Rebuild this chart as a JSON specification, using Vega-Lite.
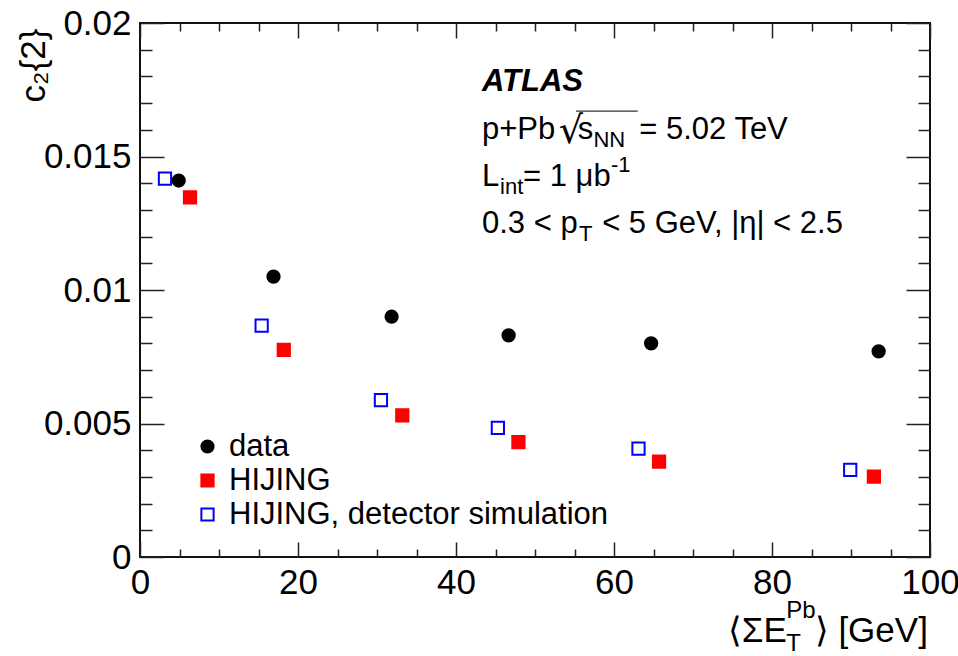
{
  "$schema": "https://vega.github.io/schema/vega-lite/v6.json",
  "width": 790,
  "height": 534,
  "autosize": {"type": "none"},
  "padding": {"left": 140, "top": 23, "right": 28, "bottom": 99},
  "background": "white",
  "config": {
    "view": {"stroke": "#111111", "strokeWidth": 2},
    "font": "Liberation Sans",
    "axis": {
      "grid": false,
      "domain": false,
      "tickColor": "#222222",
      "tickWidth": 1.5,
      "labelColor": "black",
      "labelFont": "Liberation Sans",
      "labelFontSize": 35,
      "labelFlush": false,
      "labelOverlap": false,
      "titleFont": "Liberation Sans",
      "titleColor": "black",
      "titleFontWeight": "normal",
      "zindex": 1
    },
    "legend": {
      "orient": "none",
      "legendX": 52,
      "legendY": 408,
      "padding": 0,
      "labelFont": "Liberation Sans",
      "labelFontSize": 31,
      "labelColor": "black",
      "labelOffset": 6,
      "rowPadding": 2,
      "symbolSize": 150,
      "symbolStrokeWidth": 2,
      "labelLimit": 600
    }
  },
  "datasets": {
    "points": [
      {"series": "data", "x": 4.9, "y": 0.0141},
      {"series": "data", "x": 16.9, "y": 0.0105},
      {"series": "data", "x": 31.85, "y": 0.0090},
      {"series": "data", "x": 46.66, "y": 0.0083},
      {"series": "data", "x": 64.7, "y": 0.0080},
      {"series": "data", "x": 93.5, "y": 0.0077},
      {"series": "HIJING", "x": 6.33, "y": 0.01347},
      {"series": "HIJING", "x": 18.2, "y": 0.00776},
      {"series": "HIJING", "x": 33.2, "y": 0.0053},
      {"series": "HIJING", "x": 47.9, "y": 0.0043},
      {"series": "HIJING", "x": 65.7, "y": 0.00357},
      {"series": "HIJING", "x": 92.9, "y": 0.00301},
      {"series": "HIJING, detector simulation", "x": 3.16, "y": 0.01417},
      {"series": "HIJING, detector simulation", "x": 15.4, "y": 0.00867},
      {"series": "HIJING, detector simulation", "x": 30.5, "y": 0.00588},
      {"series": "HIJING, detector simulation", "x": 45.3, "y": 0.00484},
      {"series": "HIJING, detector simulation", "x": 63.1, "y": 0.00406},
      {"series": "HIJING, detector simulation", "x": 89.9, "y": 0.00326}
    ],
    "anno": [
      {"x": 43.29, "y": 0.015655, "text": "p+Pb"},
      {"x": 55.4, "y": 0.015655, "text": "s"},
      {"x": 63.2, "y": 0.015655, "text": "= 5.02 TeV"},
      {"x": 43.29, "y": 0.013895, "text": "L"},
      {"x": 48.48, "y": 0.013895, "text": "= 1 μb"},
      {"x": 43.29, "y": 0.012135, "text": "0.3 < p"},
      {"x": 58.5, "y": 0.012135, "text": "< 5 GeV, |η| < 2.5"}
    ],
    "radical": [
      {"x": 53.0, "y": 0.0155, "text": "√"}
    ],
    "annosub": [
      {"x": 45.57, "y": 0.013596, "text": "int"},
      {"x": 57.4, "y": 0.015356, "text": "NN"},
      {"x": 55.57, "y": 0.011835, "text": "T"}
    ],
    "annosup": [
      {"x": 59.62, "y": 0.01442, "text": "-1"}
    ],
    "atlas": [
      {"x": 43.29, "y": 0.017453, "text": "ATLAS"}
    ],
    "bar": [
      {"x": 55.2, "x2": 63.0, "y": 0.0167}
    ],
    "xt": [
      {"x": 74.4, "y": -0.003184, "text": "⟨ΣE"},
      {"x": 85.4, "y": -0.003184, "text": "⟩ [GeV]"}
    ],
    "xts": [
      {"x": 81.8, "y": -0.00352, "text": "T"},
      {"x": 81.8, "y": -0.002285, "text": "Pb"}
    ]
  },
  "layer": [
    {
      "data": {"name": "points"},
      "mark": {"type": "point", "size": 150, "strokeWidth": 2, "opacity": 1},
      "encoding": {
        "x": {
          "field": "x", "type": "quantitative",
          "scale": {"domain": [0, 100], "nice": false},
          "axis": {"orient": "bottom", "values": [0, 20, 40, 60, 80, 100], "format": "d", "tickSize": -15, "labelPadding": 23, "title": null}
        },
        "y": {
          "field": "y", "type": "quantitative",
          "scale": {"domain": [0, 0.02], "nice": false, "zero": false},
          "axis": {
            "orient": "left", "values": [0, 0.005, 0.01, 0.015, 0.02], "format": "~g", "tickSize": -24, "labelPadding": 33,
            "title": "c₂{2}", "titleFontSize": 35, "titleAngle": 270, "titleAnchor": "end", "titleAlign": "right", "titleBaseline": "alphabetic", "titleX": -96, "titleY": 5
          }
        },
        "shape": {
          "field": "series", "type": "nominal",
          "scale": {"domain": ["data", "HIJING", "HIJING, detector simulation"], "range": ["circle", "square", "square"]},
          "legend": {"title": null}
        },
        "fill": {
          "field": "series", "type": "nominal",
          "scale": {"domain": ["data", "HIJING", "HIJING, detector simulation"], "range": ["black", "#ff0000", "transparent"]},
          "legend": {"title": null}
        },
        "stroke": {
          "field": "series", "type": "nominal",
          "scale": {"domain": ["data", "HIJING", "HIJING, detector simulation"], "range": ["black", "#ff0000", "#0000ff"]},
          "legend": {"title": null}
        }
      }
    },
    {
      "data": {"name": "anno"},
      "mark": {"type": "text", "align": "left", "baseline": "alphabetic", "fontSize": 31, "font": "Liberation Sans", "color": "black"},
      "encoding": {
        "x": {
          "field": "x", "type": "quantitative", "scale": {"domain": [0, 100], "nice": false},
          "axis": {"orient": "bottom", "values": [5, 10, 15, 25, 30, 35, 45, 50, 55, 65, 70, 75, 85, 90, 95], "tickSize": -8, "labels": false, "title": null}
        },
        "y": {
          "field": "y", "type": "quantitative", "scale": {"domain": [0, 0.02], "nice": false, "zero": false},
          "axis": {"orient": "left", "values": [0.001, 0.002, 0.003, 0.004, 0.006, 0.007, 0.008, 0.009, 0.011, 0.012, 0.013, 0.014, 0.016, 0.017, 0.018, 0.019], "tickSize": -12, "labels": false, "title": null}
        },
        "text": {"field": "text"}
      }
    },
    {
      "data": {"name": "annosub"},
      "mark": {"type": "text", "align": "left", "baseline": "alphabetic", "fontSize": 22, "font": "Liberation Sans", "color": "black"},
      "encoding": {
        "x": {
          "field": "x", "type": "quantitative", "scale": {"domain": [0, 100], "nice": false},
          "axis": {"orient": "top", "values": [0, 20, 40, 60, 80, 100], "tickSize": -15, "labels": false, "title": null}
        },
        "y": {
          "field": "y", "type": "quantitative", "scale": {"domain": [0, 0.02], "nice": false, "zero": false},
          "axis": {"orient": "right", "values": [0, 0.005, 0.01, 0.015, 0.02], "tickSize": -24, "labels": false, "title": null}
        },
        "text": {"field": "text"}
      }
    },
    {
      "data": {"name": "atlas"},
      "mark": {"type": "text", "align": "left", "baseline": "alphabetic", "fontSize": 31, "font": "Liberation Sans", "fontWeight": "bold", "fontStyle": "italic", "color": "black"},
      "encoding": {
        "x": {
          "field": "x", "type": "quantitative", "scale": {"domain": [0, 100], "nice": false},
          "axis": {"orient": "top", "values": [5, 10, 15, 25, 30, 35, 45, 50, 55, 65, 70, 75, 85, 90, 95], "tickSize": -8, "labels": false, "title": null}
        },
        "y": {
          "field": "y", "type": "quantitative", "scale": {"domain": [0, 0.02], "nice": false, "zero": false},
          "axis": {"orient": "right", "values": [0.001, 0.002, 0.003, 0.004, 0.006, 0.007, 0.008, 0.009, 0.011, 0.012, 0.013, 0.014, 0.016, 0.017, 0.018, 0.019], "tickSize": -12, "labels": false, "title": null}
        },
        "text": {"field": "text"}
      }
    },
    {
      "data": {"name": "annosup"},
      "mark": {"type": "text", "align": "left", "baseline": "alphabetic", "fontSize": 22, "font": "Liberation Sans", "color": "black"},
      "encoding": {
        "x": {"field": "x", "type": "quantitative", "scale": {"domain": [0, 100], "nice": false}, "axis": null},
        "y": {"field": "y", "type": "quantitative", "scale": {"domain": [0, 0.02], "nice": false, "zero": false}, "axis": null},
        "text": {"field": "text"}
      }
    },
    {
      "data": {"name": "radical"},
      "mark": {"type": "text", "align": "left", "baseline": "alphabetic", "fontSize": 38, "font": "DejaVu Sans", "color": "black"},
      "encoding": {
        "x": {"field": "x", "type": "quantitative", "scale": {"domain": [0, 100], "nice": false}, "axis": null},
        "y": {"field": "y", "type": "quantitative", "scale": {"domain": [0, 0.02], "nice": false, "zero": false}, "axis": null},
        "text": {"field": "text"}
      }
    },
    {
      "data": {"name": "bar"},
      "mark": {"type": "rule", "strokeWidth": 1.2, "color": "#333333"},
      "encoding": {
        "x": {"field": "x", "type": "quantitative", "scale": {"domain": [0, 100], "nice": false}, "axis": null},
        "x2": {"field": "x2"},
        "y": {"field": "y", "type": "quantitative", "scale": {"domain": [0, 0.02], "nice": false, "zero": false}, "axis": null}
      }
    },
    {
      "data": {"name": "xt"},
      "mark": {"type": "text", "align": "left", "baseline": "alphabetic", "fontSize": 35, "font": "Liberation Sans", "color": "black"},
      "encoding": {
        "x": {"field": "x", "type": "quantitative", "scale": {"domain": [0, 100], "nice": false}, "axis": null},
        "y": {"field": "y", "type": "quantitative", "scale": {"domain": [0, 0.02], "nice": false, "zero": false}, "axis": null},
        "text": {"field": "text"}
      }
    },
    {
      "data": {"name": "xts"},
      "mark": {"type": "text", "align": "left", "baseline": "alphabetic", "fontSize": 24, "font": "Liberation Sans", "color": "black"},
      "encoding": {
        "x": {"field": "x", "type": "quantitative", "scale": {"domain": [0, 100], "nice": false}, "axis": null},
        "y": {"field": "y", "type": "quantitative", "scale": {"domain": [0, 0.02], "nice": false, "zero": false}, "axis": null},
        "text": {"field": "text"}
      }
    }
  ],
  "resolve": {"axis": {"x": "independent", "y": "independent"}}
}
